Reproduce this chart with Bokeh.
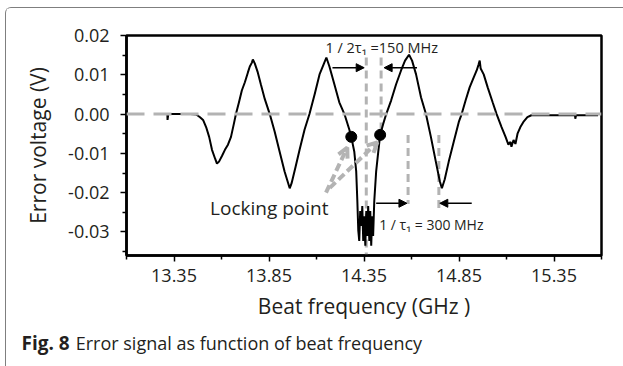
from bokeh.plotting import figure
from bokeh.layouts import column
from bokeh.models import (Range1d, FixedTicker, Label, Arrow, NormalHead, OpenHead, Span, Div)
from bokeh.embed import file_html
from bokeh.resources import INLINE

# ---------------- data ----------------
freq = [13.262, 13.304, 13.315, 13.316, 13.320, 13.383, 13.435, 13.467, 13.487, 13.503,
        13.519, 13.535, 13.550, 13.566, 13.576, 13.587, 13.603, 13.618, 13.634, 13.650,
        13.665, 13.676, 13.692, 13.707, 13.723, 13.739, 13.749, 13.760, 13.765, 13.775,
        13.791, 13.807, 13.828, 13.854, 13.880, 13.906, 13.932, 13.959, 13.969, 13.990,
        14.011, 14.037, 14.063, 14.090, 14.116, 14.137, 14.152, 14.168, 14.194, 14.220,
        14.247, 14.273, 14.283, 14.299, 14.309, 14.315, 14.320, 14.325, 14.330, 14.336,
        14.341, 14.346, 14.351, 14.357, 14.362, 14.367, 14.372, 14.378, 14.383, 14.388,
        14.393, 14.398, 14.404, 14.414, 14.425, 14.435, 14.451, 14.467, 14.493, 14.519,
        14.545, 14.566, 14.587, 14.603, 14.624, 14.650, 14.676, 14.702, 14.728, 14.749,
        14.760, 14.775, 14.796, 14.822, 14.849, 14.864, 14.885, 14.906, 14.927, 14.943,
        14.953, 14.959, 14.964, 14.980, 15.001, 15.027, 15.048, 15.074, 15.095, 15.110,
        15.121, 15.126, 15.137, 15.147, 15.158, 15.173, 15.189, 15.210, 15.231, 15.320,
        15.425, 15.461, 15.462, 15.466, 15.582]
voltage = [0.0, 0.0, 0.0, -0.0015, 0.0, 0.0, 0.0, -0.0001, -0.0008, -0.0015,
           -0.0033, -0.0058, -0.0091, -0.0113, -0.0126, -0.0121, -0.0106, -0.0091, -0.0078, -0.0058,
           -0.0025, 0.0, 0.0030, 0.0060, 0.0081, 0.0106, 0.0121, 0.0131, 0.0139, 0.0129,
           0.0106, 0.0076, 0.0038, 0.0, -0.0045, -0.0096, -0.0146, -0.0189, -0.0176, -0.0134,
           -0.0091, -0.0040, 0.0, 0.0050, 0.0101, 0.0126, 0.0144, 0.0121, 0.0076, 0.0030,
           0.0, -0.0040, -0.0058, -0.0096, -0.0146, -0.0222, -0.0297, -0.0323, -0.0247, -0.0285,
           -0.0234, -0.0323, -0.0260, -0.0335, -0.0247, -0.0310, -0.0234, -0.0323, -0.0247, -0.0335,
           -0.0260, -0.0310, -0.0222, -0.0146, -0.0096, -0.0053, -0.0025, 0.0, 0.0035, 0.0076,
           0.0111, 0.0136, 0.0151, 0.0136, 0.0101, 0.0043, 0.0, -0.0058, -0.0121, -0.0171,
           -0.0189, -0.0166, -0.0121, -0.0071, -0.0020, 0.0, 0.0035, 0.0068, 0.0093, 0.0111,
           0.0126, 0.0136, 0.0116, 0.0101, 0.0068, 0.0030, 0.0, -0.0033, -0.0058, -0.0078,
           -0.0071, -0.0083, -0.0066, -0.0076, -0.0050, -0.0033, -0.0020, -0.0008, -0.0003, -0.0003,
           -0.0003, -0.0003, -0.0012, -0.0003, -0.0003]

lock_freq = [14.283, 14.435]
lock_volt = [-0.0058, -0.0053]

x_major = [13.35, 13.85, 14.35, 14.85, 15.35]
x_minor = [13.1, 13.6, 14.1, 14.6, 15.1, 15.6]
x_labels = ["13.35", "13.85", "14.35", "14.85", "15.35"]
y_major = [-0.03, -0.02, -0.01, 0.0, 0.01, 0.02]
y_minor = [-0.035, -0.025, -0.015, -0.005, 0.005, 0.015]
y_labels = ["-0.03", "-0.02", "-0.01", "0.00", "0.01", "0.02"]

# marker lines (freq, top, bottom)
half_lines = [(14.362, 0.0144, -0.0360), (14.440, 0.0144, -0.0050)]
full_lines = [(14.582, -0.0053, -0.0229), (14.744, -0.0053, -0.0252)]

FONT = "Open Sans"
DARK = "#231f20"
GREY = "#b3b3b3"

p = figure(width=617, height=318, output_backend="svg", toolbar_location=None,
           x_range=Range1d(13.1, 15.6), y_range=Range1d(-0.036, 0.02),
           min_border_left=120, min_border_right=22, min_border_top=27, min_border_bottom=71)
p.background_fill_color = "white"
p.border_fill_color = "white"
p.grid.visible = False
p.outline_line_color = "black"
p.outline_line_width = 2.5
p.outline_line_alpha = 1

for ax, maj, mnr, labs in ((p.xaxis[0], x_major, x_minor, x_labels),
                           (p.yaxis[0], y_major, y_minor, y_labels)):
    ax.ticker = FixedTicker(ticks=maj, minor_ticks=mnr)
    ax.major_label_overrides = {v: s for v, s in zip(maj, labs)}
    ax.axis_line_width = 2.5
    ax.axis_line_color = "black"
    ax.major_tick_in = 0
    ax.major_tick_out = 6
    ax.minor_tick_in = 0
    ax.minor_tick_out = 4
    ax.major_tick_line_width = 1.5
    ax.minor_tick_line_width = 1.5
    ax.major_label_text_font = FONT
    ax.major_label_text_font_size = "18px"
    ax.major_label_text_color = DARK
    ax.axis_label_text_font = FONT
    ax.axis_label_text_font_size = "21px"
    ax.axis_label_text_font_style = "normal"
    ax.axis_label_text_color = DARK

p.xaxis.axis_label = "Beat frequency (GHz )"
p.yaxis.axis_label = "Error voltage (V)"
p.xaxis.major_label_standoff = 7
p.yaxis.major_label_standoff = 11
p.xaxis.axis_label_standoff = 7
p.yaxis.axis_label_standoff = 13

# zero line
p.add_layout(Span(location=0, dimension="width", line_color=GREY, line_width=3,
                  line_dash="18 9"))

# vertical dashed markers
for fx, top, bot in half_lines + full_lines:
    p.segment(x0=fx, y0=top, x1=fx, y1=bot, line_color=GREY, line_width=3, line_dash="8 5")

# curve
p.line(freq, voltage, line_color="black", line_width=2)

# locking points
p.scatter(lock_freq, lock_volt, size=11, color="black")

# black arrows
for x0, x1, y in ((14.184, 14.351, 0.0118), (14.629, 14.456, 0.0118),
                  (14.414, 14.576, -0.0227), (14.917, 14.749, -0.0227)):
    p.add_layout(Arrow(end=NormalHead(size=8, fill_color="black", line_color="black"),
                       x_start=x0, y_start=y, x_end=x1, y_end=y,
                       line_color="black", line_width=1.5))

# grey arrows to locking points
for x0, y0, x1, y1 in ((14.150, -0.0200, 14.262, -0.0085),
                       (14.170, -0.0188, 14.420, -0.0072)):
    p.add_layout(Arrow(end=OpenHead(size=10, line_color=GREY, line_width=4),
                       x_start=x0, y_start=y0, x_end=x1, y_end=y1,
                       line_color=GREY, line_width=4, line_dash="8 4"))

p.add_layout(Label(x=14.147, y=0.0169, text="1 / 2τ₁ =150 MHz", text_font=FONT,
                   text_font_size="14.5px", text_color=DARK, text_baseline="middle"))
p.add_layout(Label(x=14.430, y=-0.0280, text="1 / τ₁ = 300 MHz", text_font=FONT,
                   text_font_size="14px", text_color=DARK, text_baseline="middle"))
p.add_layout(Label(x=13.540, y=-0.0239, text="Locking point", text_font=FONT,
                   text_font_size="19px", text_color=DARK, text_baseline="middle"))

# caption
cap_bold = "Fig. 8"
cap_text = "Error signal as function of beat frequency"
cap = Div(width=617, height=40,
          text=('<div style="font-family:\'Open Sans\'; color:%s; padding-left:16px; '
                'line-height:34px; font-size:18px; white-space:nowrap;">'
                '<b style="font-size:19px">%s</b><span style="margin-left:6px">%s</span></div>'
                % (DARK, cap_bold, cap_text)),
          styles={"margin": "0", "padding": "0"})

layout = column(p, cap, spacing=0,
                styles={"margin-left": "4.5px", "margin-top": "6.5px",
                        "border-left": "1.5px solid #7f7f7f",
                        "border-top": "1.5px solid #7f7f7f",
                        "border-top-left-radius": "6px"})

open("out.html", "w").write(file_html(layout, INLINE))
